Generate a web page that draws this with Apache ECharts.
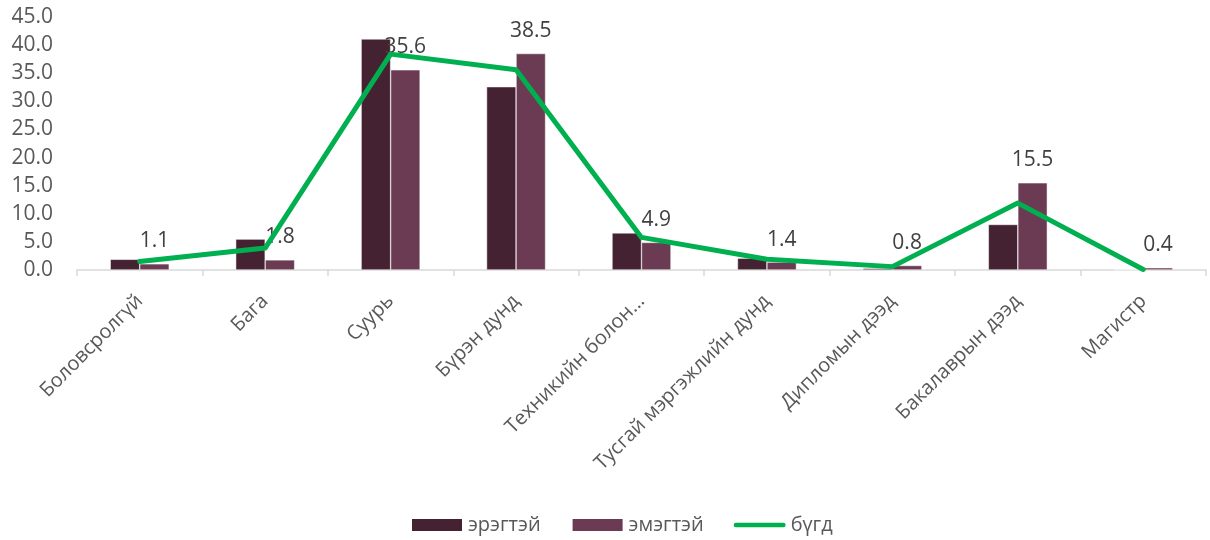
<!DOCTYPE html>
<html><head><meta charset="utf-8">
<script src="https://cdn.jsdelivr.net/npm/echarts@6/dist/echarts.min.js"></script>
<style>html,body{margin:0;padding:0;background:#fff}#c{width:1210px;height:540px}</style>
</head><body><div id="c"></div>
<script>
const categories = ['Боловсролгүй','Бага','Суурь','Бүрэн дунд','Техникийн болон…','Тусгай мэргэжлийн дунд','Дипломын дээд','Бакалаврын дээд','Магистр'];
const men = [1.9, 5.5, 41.1, 32.6, 6.6, 2.1, 0.3, 8.1, 0.1];
const women = [1.1, 1.8, 35.6, 38.5, 4.9, 1.4, 0.8, 15.5, 0.4];
const total = [1.5, 3.9, 38.4, 35.6, 5.8, 1.9, 0.6, 11.9, 0.1];
const seriesNames = ['эрэгтэй','эмэгтэй','бүгд'];

const font = "'Open Sans', 'Noto Sans', sans-serif";
const chart = echarts.init(document.getElementById('c'));
chart.setOption({
  animation: false,
  textStyle: {fontFamily: font},
  grid: {left: 77, right: 4, top: 17, bottom: 270, containLabel: false},
  legend: {
    bottom: 0, left: 405, itemWidth: 52, itemHeight: 14, itemGap: 30,
    textStyle: {fontSize: 20, color: '#595959', fontFamily: font},
    data: [
      {name: seriesNames[0], icon: 'rect'},
      {name: seriesNames[1], icon: 'rect'},
      {name: seriesNames[2], icon: 'path://M2.5,0 L53.5,0 A2.5,2.5 0 0 1 53.5,5 L2.5,5 A2.5,2.5 0 0 1 2.5,0 Z'}
    ]
  },
  xAxis: {
    type: 'category', data: categories,
    axisLine: {lineStyle: {color: '#D9D9D9', width: 1.5}},
    axisTick: {show: true, length: 6, lineStyle: {color: '#D9D9D9', width: 1.5}},
    axisLabel: {rotate: 45, fontSize: 20, color: '#595959', margin: 28, interval: 0, fontFamily: font}
  },
  yAxis: {
    type: 'value', min: 0, max: 45, interval: 5,
    splitLine: {show: false}, axisLine: {show: false}, axisTick: {show: false},
    axisLabel: {fontSize: 21, color: '#595959', margin: 24, formatter: v => v.toFixed(1), fontFamily: font}
  },
  series: [
    {name: seriesNames[0], type: 'bar', data: men, barGap: '0%', barCategoryGap: '53%',
     itemStyle: {color: '#442231', borderColor: '#ffffff', borderWidth: 0.5}},
    {name: seriesNames[1], type: 'bar', data: women,
     itemStyle: {color: '#6B3A53', borderColor: '#ffffff', borderWidth: 0.5},
     label: {show: true, position: 'top', distance: 12, fontSize: 21, color: '#404040',
             formatter: p => p.value.toFixed(1), fontFamily: font}},
    {name: seriesNames[2], type: 'line', data: total, symbol: 'none', z: 5,
     lineStyle: {color: '#00B050', width: 5, cap: 'round', join: 'round'},
     itemStyle: {color: '#00B050'}}
  ]
});
</script></body></html>
